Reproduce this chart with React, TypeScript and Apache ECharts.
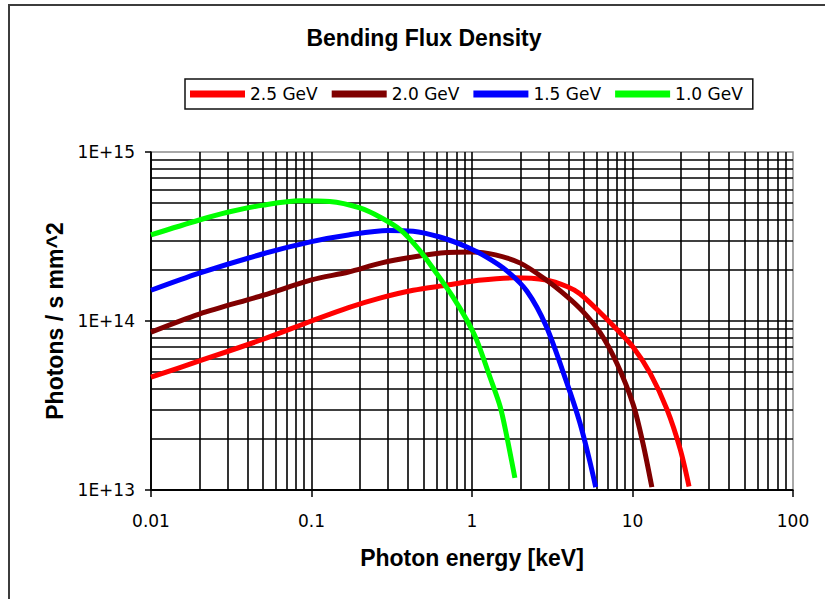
import React, { useEffect, useRef } from 'react';
import * as echarts from 'echarts';

// ---- data ----
const seriesNames = ['2.5 GeV', '2.0 GeV', '1.5 GeV', '1.0 GeV'];
const seriesColors = ['#ff0000', '#800000', '#0000ff', '#00ff00'];

const energy25 = [0.01, 0.02, 0.05, 0.1, 0.17, 0.27, 0.43, 0.7, 1.1, 1.8, 2.9, 3.9, 4.7, 6.3, 8.0, 10.1, 12.9, 16.4, 19.8, 22.5];
const flux25 = [4.65e13, 5.8e13, 7.8e13, 1.0e14, 1.2e14, 1.37e14, 1.52e14, 1.63e14, 1.74e14, 1.8e14, 1.75e14, 1.6e14, 1.45e14, 1.12e14, 8.9e13, 7.0e13, 4.9e13, 3.0e13, 1.75e13, 1.05e13];

const energy20 = [0.01, 0.02, 0.05, 0.1, 0.17, 0.27, 0.43, 0.7, 1.0, 1.4, 2.0, 2.9, 3.9, 4.9, 6.3, 8.0, 10.1, 11.6, 13.2];
const flux20 = [8.6e13, 1.1e14, 1.42e14, 1.75e14, 1.95e14, 2.2e14, 2.39e14, 2.54e14, 2.56e14, 2.46e14, 2.2e14, 1.75e14, 1.4e14, 1.14e14, 8.5e13, 5.6e13, 3.2e13, 1.9e13, 1.04e13];

const energy15 = [0.01, 0.02, 0.05, 0.1, 0.17, 0.3, 0.43, 0.63, 0.93, 1.24, 1.65, 2.2, 2.9, 3.9, 4.7, 5.4, 5.9];
const flux15 = [1.52e14, 1.92e14, 2.5e14, 2.95e14, 3.23e14, 3.43e14, 3.4e14, 3.14e14, 2.74e14, 2.38e14, 1.98e14, 1.5e14, 9.3e13, 4.3e13, 2.5e13, 1.5e13, 1.04e13];

const energy10 = [0.01, 0.02, 0.03, 0.05, 0.085, 0.13, 0.2, 0.27, 0.36, 0.47, 0.6, 0.76, 0.93, 1.07, 1.3, 1.5, 1.65, 1.85];
const flux10 = [3.23e14, 3.96e14, 4.4e14, 4.85e14, 5.15e14, 5.1e14, 4.67e14, 4.1e14, 3.45e14, 2.63e14, 1.92e14, 1.39e14, 1.01e14, 7.7e13, 4.6e13, 3.1e13, 2.06e13, 1.18e13];

const xTickValues = [0.01, 0.1, 1, 10, 100];
const xTickLabels = ['0.01', '0.1', '1', '10', '100'];
const yTickValues = [1e13, 1e14, 1e15];
const yTickLabels = ['1E+13', '1E+14', '1E+15'];

const titleText = 'Bending Flux Density';
const xAxisName = 'Photon energy [keV]';
const yAxisName = 'Photons / s mm^2';

// minor grid values (2..9 within each decade)
function minorValues(decades: number[]): number[] {
  const out: number[] = [];
  for (let i = 0; i < decades.length - 1; i++) {
    for (let k = 2; k <= 9; k++) out.push(parseFloat((k * decades[i]).toPrecision(6)));
  }
  return out;
}

function labelFor(values: number[], labels: string[], v: number): string {
  for (let i = 0; i < values.length; i++) {
    if (Math.abs(Math.log10(v) - Math.log10(values[i])) < 1e-6) return labels[i];
  }
  return '';
}

export default function App() {
  const ref = useRef<HTMLDivElement>(null);

  useEffect(() => {
    if (!ref.current) return;
    const chart = echarts.init(ref.current, null, { renderer: 'svg' });

    const energies = [energy25, energy20, energy15, energy10];
    const fluxes = [flux25, flux20, flux15, flux10];

    const xMinor = minorValues(xTickValues);
    const yMinor = minorValues(yTickValues);

    const gridLineStyle = { color: '#000', width: 1.6, type: 'solid' as const };

    const series: any[] = seriesNames.map((name, i) => ({
      name,
      type: 'line',
      data: energies[i].map((e, j) => [e, fluxes[i][j]]),
      showSymbol: false,
      symbol: 'none',
      smooth: 0.3,
      z: 3,
      lineStyle: { color: seriesColors[i], width: 5 },
      itemStyle: { color: seriesColors[i] },
    }));

    series[0].markLine = {
      silent: true,
      symbol: ['none', 'none'],
      z: 1,
      label: { show: false },
      lineStyle: gridLineStyle,
      emphasis: { disabled: true },
      data: [
        ...xMinor.map((v) => ({ xAxis: v })),
        ...yMinor.map((v) => ({ yAxis: v })),
      ],
    };

    const option: any = {
      animation: false,
      backgroundColor: '#ffffff',
      title: {
        text: titleText,
        left: 424,
        textAlign: 'center',
        top: 26,
        padding: 0,
        textStyle: {
          fontFamily: 'Liberation Sans',
          fontWeight: 'bold',
          fontSize: 23,
          color: '#000',
        },
      },
      legend: {
        data: seriesNames,
        left: 185,
        top: 79,
        padding: [5, 10, 5, 5],
        itemGap: 14,
        itemWidth: 55,
        itemHeight: 7,
        icon: 'rect',
        borderColor: '#111',
        borderWidth: 1.5,
        textStyle: {
          fontFamily: 'DejaVu Sans',
          fontSize: 17,
          color: '#000',
          lineHeight: 20,
        },
      },
      grid: {
        left: 151,
        top: 152,
        width: 642,
        height: 338,
        show: true,
        borderColor: '#8c8c8c',
        borderWidth: 1.5,
        backgroundColor: '#fff',
      },
      xAxis: {
        type: 'log',
        logBase: 10,
        min: 0.01,
        max: 100,
        name: xAxisName,
        nameLocation: 'middle',
        nameGap: 56,
        nameTextStyle: {
          fontFamily: 'Liberation Sans',
          fontWeight: 'bold',
          fontSize: 23,
          color: '#000',
        },
        axisLine: { show: true, lineStyle: { color: '#000', width: 1.5 } },
        axisTick: { show: true, length: 7, lineStyle: { color: '#000', width: 1.5 } },
        minorTick: { show: false },
        splitLine: { show: true, showMaxLine: false, lineStyle: gridLineStyle },
        axisLabel: {
          margin: 22,
          fontFamily: 'DejaVu Sans',
          fontSize: 17,
          color: '#000',
          formatter: (v: number) => labelFor(xTickValues, xTickLabels, v),
        },
      },
      yAxis: {
        type: 'log',
        logBase: 10,
        min: 1e13,
        max: 1e15,
        name: yAxisName,
        nameLocation: 'middle',
        nameGap: 84,
        nameTextStyle: {
          fontFamily: 'Liberation Sans',
          fontWeight: 'bold',
          fontSize: 23,
          color: '#000',
        },
        axisLine: { show: true, lineStyle: { color: '#000', width: 1.5 } },
        axisTick: { show: true, length: 6, lineStyle: { color: '#000', width: 1.5 } },
        minorTick: { show: false },
        splitLine: { show: true, showMaxLine: false, lineStyle: gridLineStyle },
        axisLabel: {
          margin: 16,
          fontFamily: 'DejaVu Sans',
          fontSize: 17,
          color: '#000',
          formatter: (v: number) => labelFor(yTickValues, yTickLabels, v),
        },
      },
      graphic: [
        {
          type: 'rect',
          silent: true,
          z: 100,
          shape: { x: 9, y: 5, width: 840, height: 620 },
          style: { fill: 'none', stroke: '#3c3c3c', lineWidth: 2 },
        },
      ],
      series,
    };

    chart.setOption(option);
    return () => chart.dispose();
  }, []);

  return (
    <div
      ref={ref}
      style={{ position: 'fixed', left: 0, top: 0, width: 825, height: 599, background: '#fff' }}
    />
  );
}
